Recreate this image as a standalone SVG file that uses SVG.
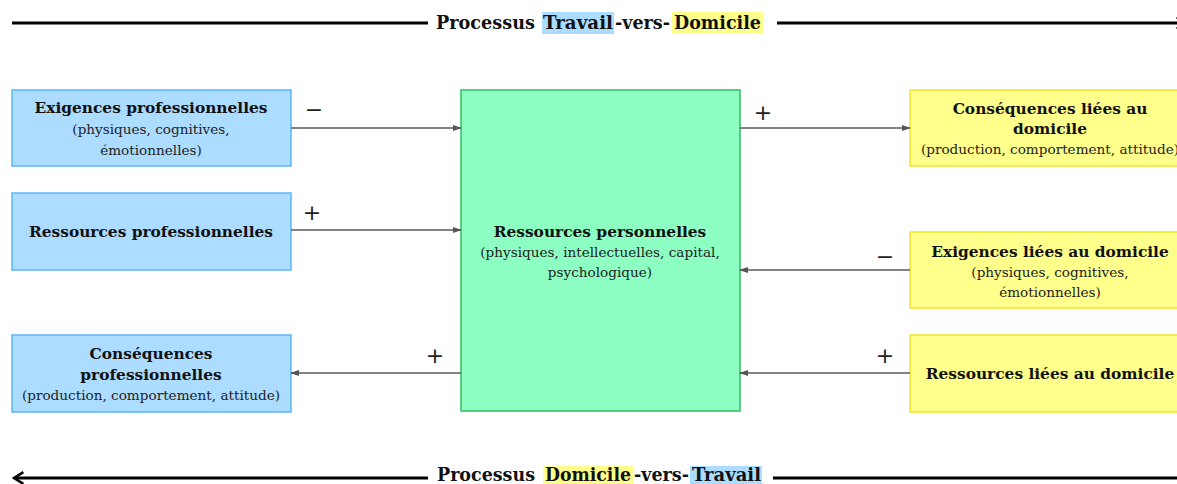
<svg xmlns="http://www.w3.org/2000/svg" width="1177" height="484" viewBox="0 0 1177 484">
<defs>
<marker id="ah" viewBox="0 0 10 10" refX="9" refY="5" markerWidth="9" markerHeight="9" orient="auto" markerUnits="userSpaceOnUse">
<path d="M0,1.5 L10,5 L0,8.5 z" fill="#555"/>
</marker>
<marker id="bigR" viewBox="0 0 12 12" refX="10" refY="6" markerWidth="14" markerHeight="14" orient="auto" markerUnits="userSpaceOnUse">
<path d="M2,1 L10,6 L2,11" fill="none" stroke="#000" stroke-width="2.2"/>
</marker>
</defs>
<style>
.blue{fill:#acdcff;stroke:#5cb6f7;stroke-width:1.5}
.yel{fill:#ffff8c;stroke:#f2e42c;stroke-width:1.5}
.grn{fill:#8dffc2;stroke:#2fbf62;stroke-width:1.5}
.b{font-family:"DejaVu Serif","Liberation Serif",serif;font-weight:bold;font-size:15.4px;fill:#111;text-anchor:middle}
.r{font-family:"DejaVu Serif","Liberation Serif",serif;font-size:13.6px;fill:#222;text-anchor:middle}
.t{font-family:"DejaVu Serif","Liberation Serif",serif;font-weight:bold;font-size:18px;fill:#111}
.conn{stroke:#5a5a5a;stroke-width:1.6;fill:none}
.sign{font-family:"DejaVu Sans","Liberation Sans",sans-serif;font-size:22px;fill:#222;text-anchor:middle}
.proc{stroke:#000;stroke-width:3;fill:none}
.hb{fill:#acdcff}
.hy{fill:#ffff8c}
</style>
<rect width="1177" height="484" fill="#fff"/>

<g id="title-top">
<line class="proc" x1="12" y1="23" x2="428" y2="23"/>
<line class="proc" x1="777" y1="23" x2="1186" y2="23" marker-end="url(#bigR)"/>
<rect class="hb" x="542" y="12" width="72" height="22"/>
<rect class="hy" x="672" y="12" width="91" height="22"/>
<text class="t" x="436" y="29" textLength="99" lengthAdjust="spacingAndGlyphs">Processus</text>
<text class="t" x="543" y="29" textLength="70" lengthAdjust="spacingAndGlyphs">Travail</text>
<text class="t" x="615" y="29" textLength="55" lengthAdjust="spacingAndGlyphs">-vers-</text>
<text class="t" x="674" y="29" textLength="87" lengthAdjust="spacingAndGlyphs">Domicile</text>
</g>

<g id="title-bottom">
<line class="proc" x1="428" y1="478" x2="14" y2="478" marker-end="url(#bigR)"/>
<line class="proc" x1="773" y1="478" x2="1177" y2="478"/>
<rect class="hy" x="543" y="466" width="90" height="20"/>
<rect class="hb" x="690" y="466" width="72" height="20"/>
<text class="t" x="437" y="481" textLength="98" lengthAdjust="spacingAndGlyphs">Processus</text>
<text class="t" x="545" y="481" textLength="86" lengthAdjust="spacingAndGlyphs">Domicile</text>
<text class="t" x="634" y="481" textLength="55" lengthAdjust="spacingAndGlyphs">-vers-</text>
<text class="t" x="692" y="481" textLength="69" lengthAdjust="spacingAndGlyphs">Travail</text>
</g>

<g id="n-exig-pro">
<rect class="blue" x="12" y="90" width="279" height="76"/>
<text class="b" x="151" y="113">Exigences professionnelles</text>
<text class="r" x="151" y="134">(physiques, cognitives,</text>
<text class="r" x="151" y="155">émotionnelles)</text>
</g>

<g id="n-ress-pro">
<rect class="blue" x="12" y="193" width="279" height="77"/>
<text class="b" x="151" y="237">Ressources professionnelles</text>
</g>

<g id="n-cons-pro">
<rect class="blue" x="12" y="335" width="279" height="77"/>
<text class="b" x="151" y="359">Conséquences</text>
<text class="b" x="151" y="380">professionnelles</text>
<text class="r" x="151" y="400">(production, comportement, attitude)</text>
</g>

<g id="n-ress-perso">
<rect class="grn" x="461" y="90" width="279" height="321"/>
<text class="b" x="600" y="237">Ressources personnelles</text>
<text class="r" x="600" y="257">(physiques, intellectuelles, capital,</text>
<text class="r" x="600" y="277">psychologique)</text>
</g>

<g id="n-cons-dom">
<rect class="yel" x="910" y="90" width="280" height="76"/>
<text class="b" x="1050" y="114">Conséquences liées au</text>
<text class="b" x="1050" y="134">domicile</text>
<text class="r" x="1050" y="154">(production, comportement, attitude)</text>
</g>

<g id="n-exig-dom">
<rect class="yel" x="910" y="232" width="280" height="76"/>
<text class="b" x="1050" y="257">Exigences liées au domicile</text>
<text class="r" x="1050" y="277">(physiques, cognitives,</text>
<text class="r" x="1050" y="297">émotionnelles)</text>
</g>

<g id="n-ress-dom">
<rect class="yel" x="910" y="335" width="280" height="77"/>
<text class="b" x="1050" y="379">Ressources liées au domicile</text>
</g>

<g id="connectors">
<line class="conn" x1="291" y1="128" x2="461" y2="128" marker-end="url(#ah)"/>
<line class="conn" x1="291" y1="230" x2="461" y2="230" marker-end="url(#ah)"/>
<line class="conn" x1="461" y1="373" x2="291" y2="373" marker-end="url(#ah)"/>
<line class="conn" x1="740" y1="128" x2="910" y2="128" marker-end="url(#ah)"/>
<line class="conn" x1="910" y1="270" x2="740" y2="270" marker-end="url(#ah)"/>
<line class="conn" x1="910" y1="373" x2="740" y2="373" marker-end="url(#ah)"/>
<text class="sign" x="314" y="117">−</text>
<text class="sign" x="312" y="220">+</text>
<text class="sign" x="435" y="363">+</text>
<text class="sign" x="763" y="120">+</text>
<text class="sign" x="885" y="264">−</text>
<text class="sign" x="885" y="363">+</text>
</g>
</svg>
